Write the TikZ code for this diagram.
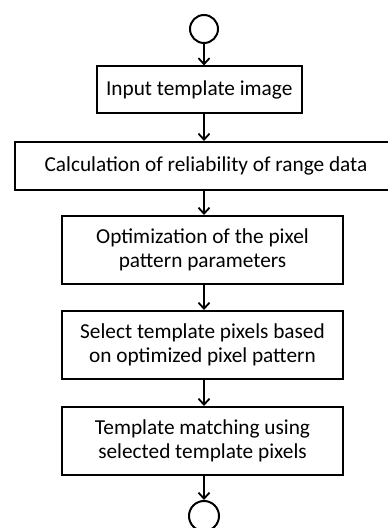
\documentclass[tikz,border=0pt]{standalone}
\usepackage{fontspec}
\setmainfont{Carlito}
\usetikzlibrary{arrows.meta}
\begin{document}
\begin{tikzpicture}[x=1pt,y=1pt,
  stepbox/.style={draw, line width=2pt, rectangle, inner sep=0pt, align=center,
    font=\fontsize{21.3}{24.5}\selectfont},
  terminal/.style={draw, line width=2pt, circle, inner sep=0pt},
  flow/.style={line width=1.8pt, -{Straight Barb[length=6pt,width=11pt,line width=1.8pt]}}]
\useasboundingbox (0,0) rectangle (388,528);
\node[terminal, minimum size=28pt] (start) at (204,499) {};
\node[stepbox, minimum width=205.5pt, minimum height=46.5pt] (input) at (199.25,438.25) {Input template image};
\node[stepbox, minimum width=382pt, minimum height=48pt] (reliab) at (206,362) {Calculation of reliability of range data};
\node[stepbox, minimum width=281pt, minimum height=68pt] (optim) at (202.5,278) {Optimization of the pixel\\pattern parameters};
\node[stepbox, minimum width=281pt, minimum height=68pt] (select) at (202.5,183) {Select template pixels based\\on optimized pixel pattern};
\node[stepbox, minimum width=281pt, minimum height=68pt] (match) at (202.5,87) {Template matching using\\selected template pixels};
\node[terminal, minimum size=30pt] (stop) at (204,12) {};
\draw[flow] (start.south) -- (start.south |- input.north);
\draw[flow] (start.south |- input.south) -- (start.south |- reliab.north);
\draw[flow] (start.south |- reliab.south) -- (start.south |- optim.north);
\draw[flow] (start.south |- optim.south) -- (start.south |- select.north);
\draw[flow] (start.south |- select.south) -- (start.south |- match.north);
\draw[flow] (start.south |- match.south) -- (stop.north);
\end{tikzpicture}
\end{document}
